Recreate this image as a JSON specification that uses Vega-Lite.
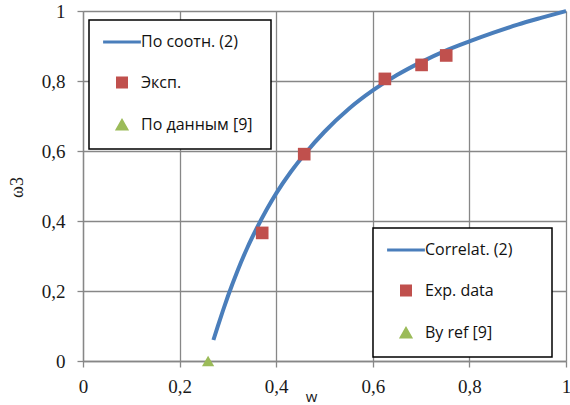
{
  "$schema": "https://vega.github.io/schema/vega-lite/v6.json",
  "width": 483,
  "height": 350,
  "autosize": {"type": "none"},
  "padding": {"left": 83, "top": 11, "right": 4, "bottom": 44},
  "background": "white",
  "config": {"view": {"stroke": null}},
  "data": {
    "values": [
      {"w": 0.27, "omega": 0.06, "ru": "По соотн. (2)", "en": "Correlat. (2)"},
      {"w": 0.28, "omega": 0.103, "ru": "По соотн. (2)", "en": "Correlat. (2)"},
      {"w": 0.29, "omega": 0.145, "ru": "По соотн. (2)", "en": "Correlat. (2)"},
      {"w": 0.30, "omega": 0.185, "ru": "По соотн. (2)", "en": "Correlat. (2)"},
      {"w": 0.32, "omega": 0.258, "ru": "По соотн. (2)", "en": "Correlat. (2)"},
      {"w": 0.34, "omega": 0.323, "ru": "По соотн. (2)", "en": "Correlat. (2)"},
      {"w": 0.36, "omega": 0.38, "ru": "По соотн. (2)", "en": "Correlat. (2)"},
      {"w": 0.38, "omega": 0.432, "ru": "По соотн. (2)", "en": "Correlat. (2)"},
      {"w": 0.40, "omega": 0.479, "ru": "По соотн. (2)", "en": "Correlat. (2)"},
      {"w": 0.43, "omega": 0.54, "ru": "По соотн. (2)", "en": "Correlat. (2)"},
      {"w": 0.46, "omega": 0.593, "ru": "По соотн. (2)", "en": "Correlat. (2)"},
      {"w": 0.50, "omega": 0.655, "ru": "По соотн. (2)", "en": "Correlat. (2)"},
      {"w": 0.55, "omega": 0.72, "ru": "По соотн. (2)", "en": "Correlat. (2)"},
      {"w": 0.60, "omega": 0.773, "ru": "По соотн. (2)", "en": "Correlat. (2)"},
      {"w": 0.65, "omega": 0.817, "ru": "По соотн. (2)", "en": "Correlat. (2)"},
      {"w": 0.70, "omega": 0.854, "ru": "По соотн. (2)", "en": "Correlat. (2)"},
      {"w": 0.75, "omega": 0.886, "ru": "По соотн. (2)", "en": "Correlat. (2)"},
      {"w": 0.80, "omega": 0.913, "ru": "По соотн. (2)", "en": "Correlat. (2)"},
      {"w": 0.85, "omega": 0.938, "ru": "По соотн. (2)", "en": "Correlat. (2)"},
      {"w": 0.90, "omega": 0.961, "ru": "По соотн. (2)", "en": "Correlat. (2)"},
      {"w": 0.95, "omega": 0.981, "ru": "По соотн. (2)", "en": "Correlat. (2)"},
      {"w": 1.0, "omega": 1.0, "ru": "По соотн. (2)", "en": "Correlat. (2)"},
      {"w": 0.371, "omega": 0.366, "ru": "Эксп.", "en": "Exp. data"},
      {"w": 0.458, "omega": 0.591, "ru": "Эксп.", "en": "Exp. data"},
      {"w": 0.625, "omega": 0.806, "ru": "Эксп.", "en": "Exp. data"},
      {"w": 0.701, "omega": 0.846, "ru": "Эксп.", "en": "Exp. data"},
      {"w": 0.752, "omega": 0.873, "ru": "Эксп.", "en": "Exp. data"},
      {"w": 0.259, "omega": 0.0, "ru": "По данным [9]", "en": "By ref [9]"}
    ]
  },
  "encoding": {
    "x": {
      "field": "w", "type": "quantitative",
      "scale": {"domain": [0, 1], "nice": false, "zero": false},
      "axis": {
        "values": [0, 0.2, 0.4, 0.6, 0.8, 1],
        "labelExpr": "replace(format(datum.value, '.1~f'), '.', ',')",
        "grid": true, "gridColor": "#878787", "gridWidth": 1.3,
        "domainColor": "#878787", "domainWidth": 1.3,
        "tickColor": "#878787", "tickSize": 6, "tickWidth": 1.3,
        "labelFont": "Liberation Serif", "labelFontSize": 19, "labelColor": "#1a1a1a",
        "labelPadding": 10, "labelFlush": false, "labelOverlap": false,
        "title": "w", "titleFont": "Open Sans", "titleFontSize": 15, "titleFontWeight": "normal",
        "titleColor": "#1a1a1a", "titleX": 228, "titleY": 28, "titleBaseline": "top"
      }
    },
    "y": {
      "field": "omega", "type": "quantitative",
      "scale": {"domain": [0, 1], "nice": false, "zero": false},
      "axis": {
        "values": [0, 0.2, 0.4, 0.6, 0.8, 1],
        "labelExpr": "replace(format(datum.value, '.1~f'), '.', ',')",
        "grid": true, "gridColor": "#878787", "gridWidth": 1.3,
        "domainColor": "#878787", "domainWidth": 1.3,
        "tickColor": "#878787", "tickSize": 6, "tickWidth": 1.3,
        "labelFont": "Liberation Serif", "labelFontSize": 19, "labelColor": "#1a1a1a",
        "labelPadding": 12, "labelFlush": false, "labelOverlap": false,
        "title": "ω3", "titleFont": "Liberation Serif", "titleFontSize": 18, "titleFontWeight": "normal",
        "titleColor": "#1a1a1a", "titleX": -66, "titleY": 176, "titleAngle": 270,
        "titleBaseline": "middle", "titleAlign": "center"
      }
    },
    "color": {
      "field": "ru", "type": "nominal",
      "scale": {"domain": ["По соотн. (2)", "Эксп.", "По данным [9]"], "range": ["#4a7ebb", "#c0504d", "#9bbb59"]},
      "legend": {
        "orient": "none", "legendX": 6, "legendY": 9, "title": null,
        "padding": 14, "rowPadding": 21.5,
        "strokeColor": "black", "fillColor": "white",
        "symbolSize": 81, "symbolStrokeWidth": 3, "symbolOffset": 11, "labelOffset": 11,
        "labelFont": "Open Sans", "labelFontSize": 16, "labelColor": "#111111",
        "labelExpr": "datum.label + '\u00a0\u200b'",
        "encode": {
          "legend": {"update": {"strokeWidth": {"value": 1.5}}},
          "symbols": {"update": {
            "shape": {"signal": "datum.index === 0 ? 'M-4.2,0L4.2,0' : datum.index === 1 ? 'square' : 'triangle-up'"},
            "fill": {"signal": "datum.index === 0 ? 'transparent' : datum.index === 1 ? '#c0504d' : '#9bbb59'"},
            "stroke": {"signal": "datum.index === 0 ? '#4a7ebb' : datum.index === 1 ? '#c0504d' : '#9bbb59'"},
            "opacity": {"value": 1}
          }}
        }
      }
    },
    "opacity": {
      "field": "en", "type": "nominal",
      "scale": {"domain": ["Correlat. (2)", "Exp. data", "By ref [9]"], "range": [1, 1, 1]},
      "legend": {
        "orient": "none", "legendX": 290, "legendY": 217, "title": null,
        "padding": 14, "rowPadding": 21.5,
        "strokeColor": "black", "fillColor": "white",
        "symbolSize": 81, "symbolStrokeWidth": 3, "symbolOffset": 11, "labelOffset": 11,
        "labelFont": "Open Sans", "labelFontSize": 16, "labelColor": "#111111",
        "encode": {
          "legend": {"update": {"strokeWidth": {"value": 1.5}}},
          "labels": {"update": {"text": {"signal": "datum.label + '\u00a0\u00a0\u00a0\u00a0\u00a0\u00a0\u200b'"}}},
          "symbols": {"update": {
            "shape": {"signal": "datum.index === 0 ? 'M-4.2,0L4.2,0' : datum.index === 1 ? 'square' : 'triangle-up'"},
            "fill": {"signal": "datum.index === 0 ? 'transparent' : datum.index === 1 ? '#c0504d' : '#9bbb59'"},
            "stroke": {"signal": "datum.index === 0 ? '#4a7ebb' : datum.index === 1 ? '#c0504d' : '#9bbb59'"},
            "opacity": {"value": 1}
          }}
        }
      }
    }
  },
  "layer": [
    {
      "transform": [{"filter": "datum.ru === 'По соотн. (2)'"}],
      "mark": {"type": "line", "strokeWidth": 4, "interpolate": "monotone"}
    },
    {
      "transform": [{"filter": "datum.ru === 'Эксп.'"}],
      "mark": {"type": "point", "shape": "square", "filled": true, "size": 160}
    },
    {
      "transform": [{"filter": "datum.ru === 'По данным [9]'"}],
      "mark": {"type": "point", "shape": "triangle-up", "filled": true, "size": 150}
    }
  ]
}
